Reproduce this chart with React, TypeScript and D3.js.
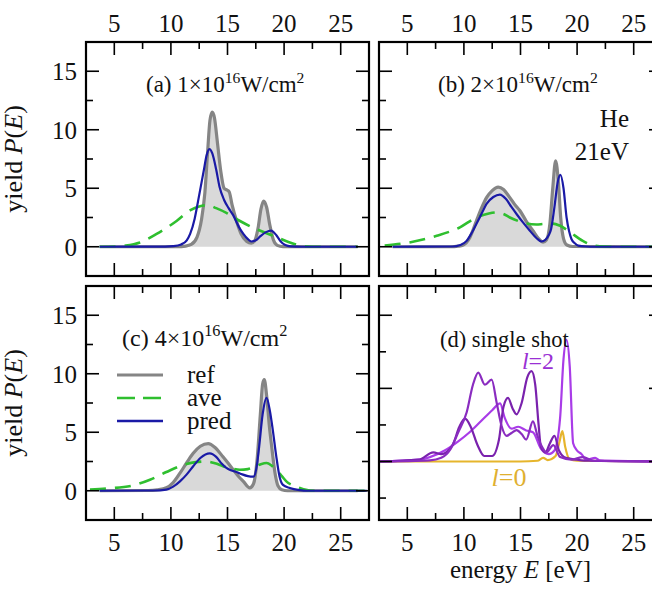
import React from 'react';
import * as d3 from 'd3';

type Pt = [number, number];

const energyTicks = [5, 10, 15, 20, 25];
const energyMinor = [7.5, 12.5, 17.5, 22.5];
const yieldTicks = [0, 5, 10, 15];
const yieldMinor = [2.5, 7.5, 12.5];
const shotMajor = [0, 2, 4];
const shotMinor = [-1, 1, 3];

const legendLabels = ['ref', 'ave', 'pred'];

// (a) 1e16 W/cm2
const refA: Pt[] = [[3.7,0],[9,0],[10.5,0.01],[11.3,0.06],[11.8,0.2],[12.3,0.8],[12.7,2.3],[13.0,4.6],[13.25,8.2],[13.45,10.8],[13.65,11.5],[13.85,11.0],[14.1,9.0],[14.4,6.5],[14.7,5.0],[14.95,4.85],[15.15,4.7],[15.4,3.6],[15.8,2.2],[16.2,1.1],[16.7,0.45],[17.1,0.3],[17.4,0.5],[17.7,1.6],[17.95,3.2],[18.2,3.9],[18.45,3.4],[18.75,1.8],[19.05,0.6],[19.4,0.12],[19.9,0.01],[26.5,0]];
const aveA: Pt[] = [[3.7,0],[5,0.02],[6,0.1],[7.27,0.37],[8.74,1.1],[10.5,2.2],[11.68,3.1],[12.5,3.45],[13.3,3.55],[14.0,3.3],[14.9,2.9],[16.1,2.2],[17.56,1.5],[19.0,0.95],[20.5,0.37],[21.5,0.08],[22.5,0],[26.5,0]];
const predA: Pt[] = [[3.7,0],[9.5,0.01],[10.2,0.05],[10.9,0.2],[11.4,0.55],[11.7,1.1],[12.1,2.4],[12.4,3.9],[12.9,6.5],[13.15,7.8],[13.4,8.35],[13.65,8.0],[14.0,6.6],[14.3,5.1],[14.7,4.0],[15.1,3.3],[15.5,2.7],[16.0,1.7],[16.4,1.1],[16.8,0.65],[17.1,0.45],[17.5,0.55],[17.9,0.9],[18.4,1.25],[18.85,1.37],[19.3,1.0],[19.7,0.45],[20.1,0.15],[20.6,0.03],[21.5,0],[26.5,0]];

// (b) 2e16 W/cm2
const refB: Pt[] = [[3.7,0],[8.8,0],[9.5,0.05],[9.94,0.15],[10.53,0.8],[11.1,2.2],[11.6,3.4],[12.0,4.2],[12.5,4.8],[13.03,5.1],[13.5,4.9],[14.06,4.2],[14.5,3.6],[14.94,3.1],[15.5,2.2],[16.1,1.37],[16.6,0.7],[17.0,0.4],[17.3,0.6],[17.6,2.0],[17.85,5.0],[18.1,7.35],[18.35,5.5],[18.55,2.5],[18.8,0.7],[19.1,0.15],[19.6,0.02],[27.5,0]];
const aveB: Pt[] = [[3.0,0.1],[5.2,0.37],[7.6,0.94],[9.65,1.66],[11.1,2.5],[12.2,2.85],[12.9,2.94],[13.5,2.8],[14.06,2.5],[14.8,2.2],[15.5,2.0],[16.4,1.9],[17.0,1.95],[17.6,2.0],[18.5,1.8],[19.4,1.23],[20.5,0.5],[21.3,0.15],[22.0,0.03],[23,0],[27.5,0]];
const predB: Pt[] = [[3.7,0],[9.0,0.02],[9.7,0.15],[10.24,0.5],[10.7,1.2],[11.1,1.94],[11.6,2.9],[12.0,3.66],[12.6,4.25],[13.18,4.46],[13.7,4.1],[14.2,3.4],[14.65,2.8],[15.2,2.1],[15.83,1.37],[16.4,0.75],[16.86,0.45],[17.2,0.6],[17.5,1.0],[17.7,1.5],[18.0,3.4],[18.3,5.6],[18.53,6.15],[18.8,5.0],[19.07,2.5],[19.3,1.3],[19.5,0.66],[19.8,0.3],[20.1,0.1],[20.8,0.02],[21.5,0],[27.5,0]];

// (c) 4e16 W/cm2
const refC: Pt[] = [[3.7,0],[8.0,0.02],[8.8,0.08],[9.6,0.25],[10.2,0.7],[10.8,1.5],[11.4,2.4],[11.97,3.2],[12.6,3.8],[13.3,4.03],[13.9,3.7],[14.6,2.9],[15.1,2.3],[15.5,1.8],[16.0,1.2],[16.4,0.8],[16.97,0.25],[17.3,0.6],[17.6,2.5],[17.9,6.5],[18.1,9.1],[18.25,9.5],[18.45,8.2],[18.7,5.5],[18.9,3.8],[19.2,1.5],[19.47,0.4],[19.8,0.08],[20.3,0],[26.5,0]];
const aveC: Pt[] = [[2.85,0.1],[4.5,0.2],[6.67,0.46],[8.15,0.94],[9.6,1.6],[11.1,2.2],[12.2,2.45],[13.15,2.5],[13.9,2.35],[14.6,2.1],[15.4,1.9],[16.1,1.8],[16.8,1.85],[17.3,2.0],[17.9,2.25],[18.45,2.37],[18.9,2.15],[19.3,1.8],[19.8,1.25],[20.2,0.8],[20.8,0.45],[21.4,0.23],[22.3,0.02],[23,0],[27.3,0]];
const predC: Pt[] = [[3.7,0],[8.5,0.02],[9.6,0.1],[10.2,0.35],[10.8,0.8],[11.4,1.4],[11.97,2.1],[12.6,2.8],[13.44,3.2],[14.0,2.9],[14.5,2.3],[14.9,1.95],[15.3,1.75],[15.8,1.6],[16.3,1.4],[16.8,1.25],[17.3,1.2],[17.6,2.2],[17.8,3.8],[18.1,6.5],[18.45,7.94],[18.75,6.8],[19.0,5.2],[19.3,3.0],[19.6,1.2],[19.9,0.5],[20.5,0.23],[21.4,0.05],[22,0],[27.3,0]];

// (d) single shot
const shotA: Pt[] = [[2.6,0],[7,0.03],[8,0.1],[8.8,0.33],[9.5,0.8],[10.24,1.34],[10.8,2.1],[11.27,2.43],[11.85,2.1],[12.45,2.24],[12.9,1.6],[13.33,0.97],[13.77,0.7],[14.2,0.78],[14.65,0.86],[15.1,0.75],[15.5,0.6],[16.1,1.1],[16.5,0.7],[16.9,0.4],[17.3,0.25],[17.9,0.45],[18.5,0.12],[19.5,0.05],[20.5,0.12],[21.5,0.02],[27.5,0]];
const shotB: Pt[] = [[2.6,0],[6,0.05],[7.3,0.25],[8,0.2],[9,0.45],[9.6,0.95],[10.1,1.17],[10.6,0.95],[11.2,0.45],[11.8,0.15],[12.5,0.15],[13.1,0.6],[13.5,1.5],[13.9,1.74],[14.3,1.45],[14.65,1.29],[15.1,1.6],[15.6,2.3],[15.98,2.47],[16.3,2.1],[16.6,1.0],[16.8,0.4],[17.2,0.25],[17.6,0.5],[18.0,0.7],[18.4,0.3],[19,0.1],[20,0.05],[21,0.02],[27.5,0]];
const shotC: Pt[] = [[2.6,0],[6,0.05],[7,0.12],[8.3,0.3],[9.5,0.55],[10.5,0.8],[11.5,1.1],[12.5,1.4],[13.2,1.59],[13.6,1.2],[14.2,0.9],[14.8,0.95],[15.5,0.85],[16.1,0.8],[16.8,0.35],[17.5,0.2],[18.0,0.3],[18.5,1.2],[18.8,2.8],[19.07,3.33],[19.35,2.6],[19.65,0.5],[20.0,0.3],[20.4,0.2],[20.8,0.05],[21.6,0.1],[22,0.03],[27.5,0]];
const shotL0: Pt[] = [[2.6,0],[15,0],[16.5,0.02],[17.0,0.1],[17.4,0.04],[18.1,0.15],[18.45,0.55],[18.7,0.83],[18.95,0.4],[19.3,0.08],[20,0.02],[27.5,0]];

const W = 283, H = 234;
const FONT = "'Liberation Serif', 'Times New Roman', serif";

const xScale = d3.scaleLinear().domain([2.5, 27.5]).range([0, W]);
const yYield = d3.scaleLinear().domain([-2.5, 17.5]).range([H, 0]);
const yShot = d3.scaleLinear().domain([-1.6, 4.8]).range([H, 0]);

const C_REF = '#858585', C_FILL = '#d9d9d9', C_AVE = '#2fbf2f', C_PRED = '#1a1aa6';

function lineFor(ys: d3.ScaleLinear<number, number>) {
  return d3.line<Pt>().x(d => xScale(d[0])).y(d => ys(d[1])).curve(d3.curveMonotoneX);
}
function areaFor(ys: d3.ScaleLinear<number, number>) {
  return d3.area<Pt>().x(d => xScale(d[0])).y0(ys(0)).y1(d => ys(d[1])).curve(d3.curveMonotoneX);
}

type PanelProps = {
  id: string; x0: number; y0: number;
  ys: d3.ScaleLinear<number, number>;
  majY: number[]; minY: number[];
  top?: boolean; bottom?: boolean; left?: boolean;
  children?: React.ReactNode;
};

function Panel({ id, x0, y0, ys, majY, minY, top, bottom, left, children }: PanelProps) {
  const MAJ = 13, MIN = 7;
  const ticks: React.ReactNode[] = [];
  energyTicks.forEach(v => {
    const x = xScale(v);
    ticks.push(<line key={'xt' + v} x1={x} x2={x} y1={0} y2={MAJ} />);
    ticks.push(<line key={'xb' + v} x1={x} x2={x} y1={H} y2={H - MAJ} />);
  });
  energyMinor.forEach(v => {
    const x = xScale(v);
    ticks.push(<line key={'xmt' + v} x1={x} x2={x} y1={0} y2={MIN} />);
    ticks.push(<line key={'xmb' + v} x1={x} x2={x} y1={H} y2={H - MIN} />);
  });
  majY.forEach(v => {
    const y = ys(v);
    ticks.push(<line key={'yl' + v} x1={0} x2={MAJ} y1={y} y2={y} />);
    ticks.push(<line key={'yr' + v} x1={W} x2={W - MAJ} y1={y} y2={y} />);
  });
  minY.forEach(v => {
    const y = ys(v);
    ticks.push(<line key={'yml' + v} x1={0} x2={MIN} y1={y} y2={y} />);
    ticks.push(<line key={'ymr' + v} x1={W} x2={W - MIN} y1={y} y2={y} />);
  });
  return (
    <g transform={`translate(${x0},${y0})`}>
      <defs>
        <clipPath id={'clip-' + id}><rect x={0} y={0} width={W} height={H} /></clipPath>
      </defs>
      <g clipPath={`url(#clip-${id})`}>{children}</g>
      <g stroke="#000" strokeWidth={1.6}>{ticks}</g>
      <rect x={0} y={0} width={W} height={H} fill="none" stroke="#000" strokeWidth={2.2} />
      <g fontFamily={FONT} fontSize={25} fill="#111">
        {top && energyTicks.map(v => (
          <text key={'lt' + v} x={xScale(v)} y={-10} textAnchor="middle">{v}</text>
        ))}
        {bottom && energyTicks.map(v => (
          <text key={'lb' + v} x={xScale(v)} y={H + 31} textAnchor="middle">{v}</text>
        ))}
        {left && majY.map(v => (
          <text key={'ll' + v} x={-9} y={ys(v)} dy="0.36em" textAnchor="end">{v}</text>
        ))}
      </g>
    </g>
  );
}

function Spectra({ refD, aveD, predD }: { refD: Pt[]; aveD: Pt[]; predD: Pt[] }) {
  const line = lineFor(yYield);
  const area = areaFor(yYield);
  return (
    <g fill="none">
      <path d={area(refD) || ''} fill={C_FILL} stroke="none" />
      <path d={line(refD) || ''} stroke={C_REF} strokeWidth={3.2} />
      <path d={line(aveD) || ''} stroke={C_AVE} strokeWidth={2.6} strokeDasharray="16,9" />
      <path d={line(predD) || ''} stroke={C_PRED} strokeWidth={2.2} />
    </g>
  );
}

function Annot({ x, y, size, label, pre }: { x: number; y: number; size: number; label: string; pre: string }) {
  return (
    <text x={x} y={y} fontFamily={FONT} fontSize={size} fill="#111">
      <tspan>{label} {pre}×10</tspan>
      <tspan dy={-size * 0.4} fontSize={size * 0.68}>16</tspan>
      <tspan dy={size * 0.4}>W/cm</tspan>
      <tspan dy={-size * 0.4} fontSize={size * 0.68}>2</tspan>
    </text>
  );
}

function YLabel({ y }: { y: number }) {
  return (
    <text transform={`translate(22,${y}) rotate(-90)`} textAnchor="middle" fontFamily={FONT} fontSize={26} fill="#111">
      yield <tspan fontStyle="italic">P</tspan>(<tspan fontStyle="italic">E</tspan>)
    </text>
  );
}

export default function App() {
  const sl = lineFor(yShot);
  const legendColors = [C_REF, C_AVE, C_PRED];
  return (
    <svg width={652} height={590} style={{ position: 'absolute', left: 0, top: 0, background: '#fff' }}>
      <Panel id="a" x0={86} y0={42} ys={yYield} majY={yieldTicks} minY={yieldMinor} top left>
        <Spectra refD={refA} aveD={aveA} predD={predA} />
      </Panel>
      <Panel id="b" x0={379} y0={42} ys={yYield} majY={yieldTicks} minY={yieldMinor} top>
        <Spectra refD={refB} aveD={aveB} predD={predB} />
      </Panel>
      <Panel id="c" x0={86} y0={286} ys={yYield} majY={yieldTicks} minY={yieldMinor} bottom left>
        <Spectra refD={refC} aveD={aveC} predD={predC} />
      </Panel>
      <Panel id="d" x0={379} y0={286} ys={yShot} majY={shotMajor} minY={shotMinor} bottom>
        <g fill="none" strokeWidth={2.2}>
          <path d={sl(shotL0) || ''} stroke="#e6b52c" />
          <path d={sl(shotC) || ''} stroke="#a93ce8" />
          <path d={sl(shotB) || ''} stroke="#7a22ad" />
          <path d={sl(shotA) || ''} stroke="#8a2cc0" />
        </g>
      </Panel>

      <Annot x={146} y={92} size={23} label="(a)" pre="1" />
      <Annot x={438} y={92} size={23} label="(b)" pre="2" />
      <Annot x={122} y={346} size={24} label="(c)" pre="4" />
      <text x={440} y={347} fontFamily={FONT} fontSize={22.5} fill="#111">(d) single shot</text>

      <text x={629} y={127} textAnchor="end" fontFamily={FONT} fontSize={25} fill="#111">He</text>
      <text x={629} y={160} textAnchor="end" fontFamily={FONT} fontSize={25} fill="#111">21eV</text>

      <text x={538} y={369} textAnchor="middle" fontFamily={FONT} fontSize={24} fill="#9a30d4">
        <tspan fontStyle="italic">l</tspan>=2
      </text>
      <text x={509} y={486} textAnchor="middle" fontFamily={FONT} fontSize={26} fill="#e0b030">
        <tspan fontStyle="italic">l</tspan>=0
      </text>

      {legendLabels.map((lab, i) => (
        <g key={lab}>
          <line x1={117} x2={163} y1={375 + i * 23} y2={375 + i * 23} stroke={legendColors[i]}
            strokeWidth={i === 0 ? 3.2 : i === 1 ? 2.6 : 2.4} strokeDasharray={i === 1 ? '18,8' : undefined} />
          <text x={187} y={375 + i * 23} dy="0.3em" fontFamily={FONT} fontSize={25} fill="#111">{lab}</text>
        </g>
      ))}

      <YLabel y={159} />
      <YLabel y={403} />
      <text x={520.5} y={578} textAnchor="middle" fontFamily={FONT} fontSize={25} fill="#111">
        energy <tspan fontStyle="italic">E</tspan> [eV]
      </text>
    </svg>
  );
}
